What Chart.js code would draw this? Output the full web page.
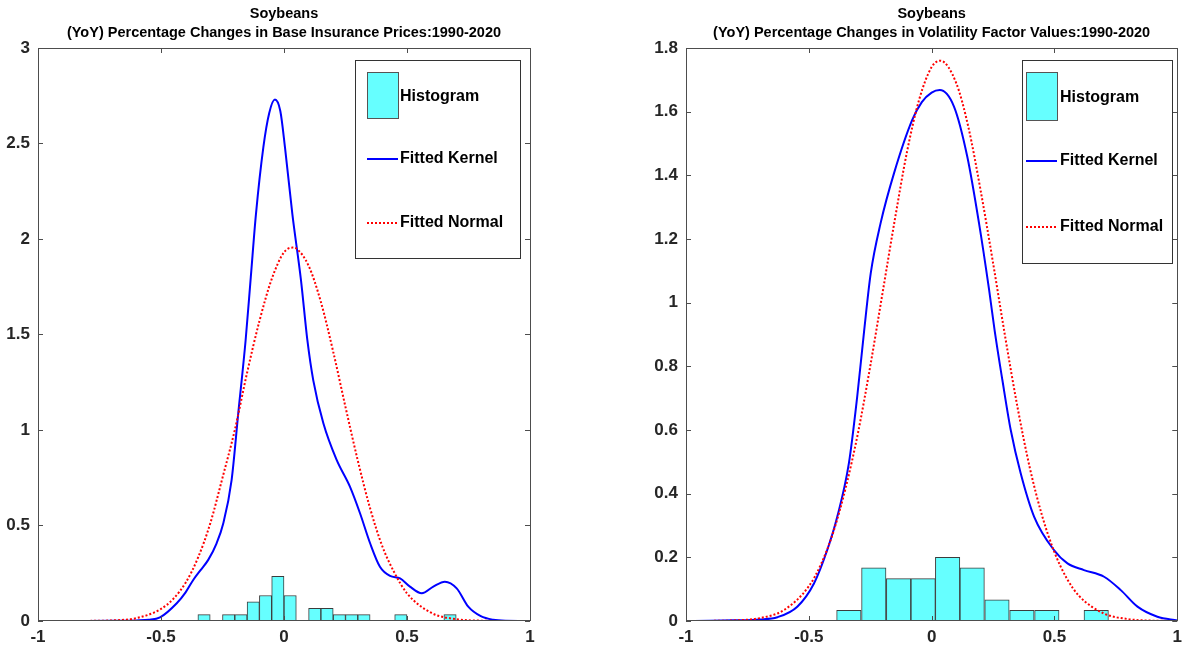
<!DOCTYPE html>
<html lang="en">
<head>
<meta charset="UTF-8">
<title>Soybeans YoY Percentage Changes</title>
<script src="https://cdn.jsdelivr.net/npm/chart.js@4"></script>
<style>
  body { margin: 0; background: #fff; }
  .wrap { position: absolute; top: 0; width: 594px; height: 649px; }
  #leftWrap { left: 0; }
  #rightWrap { left: 594px; }
</style>
</head>
<body>
<div class="wrap" id="leftWrap"><canvas id="priceChart" width="594" height="649"></canvas></div>
<div class="wrap" id="rightWrap"><canvas id="volChart" width="594" height="649"></canvas></div>
<script>
// tick labels
const xTicks = [-1, -0.5, 0, 0.5, 1];
const priceYTicks = [0, 0.5, 1, 1.5, 2, 2.5, 3];
const volYTicks = [0, 0.2, 0.4, 0.6, 0.8, 1, 1.2, 1.4, 1.6, 1.8];

// base insurance prices: histogram (bin centres, relative frequency)
const priceBins = [-0.325, -0.225, -0.175, -0.125, -0.075, -0.025, 0.025, 0.125, 0.175, 0.225, 0.275, 0.325, 0.475, 0.675];
const priceHist = [0.0333, 0.0333, 0.0333, 0.1, 0.1333, 0.2333, 0.1333, 0.0667, 0.0667, 0.0333, 0.0333, 0.0333, 0.0333, 0.0333];

// base insurance prices: fitted kernel
const priceKernelX = [-1, -0.8, -0.7, -0.6, -0.55, -0.504, -0.436, -0.4, -0.369, -0.34, -0.308, -0.274, -0.247, -0.213, -0.186, -0.156, -0.135, -0.114, -0.084, -0.06, -0.037, -0.015, 0.004, 0.034, 0.069, 0.095, 0.119, 0.16, 0.214, 0.268, 0.309, 0.35, 0.39, 0.431, 0.472, 0.512, 0.56, 0.607, 0.654, 0.702, 0.749, 0.8, 0.85, 0.9, 1];
const priceKernelY = [0, 0, 0.001, 0.003, 0.006, 0.019, 0.093, 0.15, 0.215, 0.265, 0.32, 0.407, 0.51, 0.738, 1.087, 1.47, 1.8, 2.13, 2.48, 2.66, 2.73, 2.67, 2.48, 2.13, 1.785, 1.47, 1.26, 1.035, 0.843, 0.703, 0.564, 0.407, 0.284, 0.236, 0.223, 0.18, 0.145, 0.18, 0.206, 0.171, 0.075, 0.025, 0.006, 0.001, 0];

// base insurance prices: fitted normal
const priceNormalX = [-1, -0.9, -0.8, -0.7, -0.6, -0.5, -0.45, -0.4, -0.35, -0.3, -0.25, -0.2, -0.15, -0.1, -0.05, 0, 0.035, 0.05, 0.1, 0.15, 0.2, 0.25, 0.3, 0.35, 0.4, 0.45, 0.5, 0.6, 0.7, 0.8, 0.9, 1];
const priceNormalY = [0, 0.0001, 0.0005, 0.003, 0.015, 0.063, 0.116, 0.2, 0.33, 0.51, 0.75, 1.0, 1.3, 1.57, 1.79, 1.93, 1.955, 1.95, 1.86, 1.67, 1.41, 1.12, 0.84, 0.59, 0.39, 0.25, 0.145, 0.042, 0.0096, 0.0017, 0.0002, 0];

// volatility factor values: histogram
const volBins = [-0.337, -0.2355, -0.1345, -0.0345, 0.065, 0.165, 0.266, 0.3675, 0.469, 0.67];
const volHist = [0.0333, 0.1667, 0.1333, 0.1333, 0.2, 0.1667, 0.0667, 0.0333, 0.0333, 0.0333];

// volatility factor values: fitted kernel
const volKernelX = [-1, -0.9, -0.806, -0.7, -0.628, -0.547, -0.479, -0.425, -0.384, -0.337, -0.303, -0.275, -0.248, -0.208, -0.153, -0.079, -0.04, 0, 0.033, 0.091, 0.145, 0.193, 0.234, 0.257, 0.288, 0.322, 0.3625, 0.417, 0.498, 0.553, 0.62, 0.702, 0.77, 0.838, 0.919, 1];
const volKernelY = [0, 0.0005, 0.002, 0.005, 0.012, 0.045, 0.118, 0.223, 0.328, 0.495, 0.705, 0.91, 1.092, 1.249, 1.407, 1.574, 1.63, 1.66, 1.668, 1.616, 1.459, 1.249, 1.04, 0.91, 0.757, 0.6, 0.464, 0.328, 0.223, 0.181, 0.16, 0.139, 0.097, 0.045, 0.0135, 0.002];

// volatility factor values: fitted normal
const volNormalX = [-1, -0.9, -0.8, -0.7, -0.6, -0.5, -0.45, -0.4, -0.35, -0.3, -0.25, -0.2, -0.15, -0.1, -0.05, 0, 0.035, 0.1, 0.15, 0.2, 0.25, 0.3, 0.35, 0.4, 0.45, 0.5, 0.55, 0.6, 0.7, 0.8, 0.9, 1];
const volNormalY = [0, 0.0003, 0.002, 0.009, 0.035, 0.109, 0.179, 0.28, 0.418, 0.59, 0.8, 1.03, 1.26, 1.475, 1.64, 1.74, 1.76, 1.69, 1.55, 1.35, 1.125, 0.89, 0.67, 0.48, 0.33, 0.216, 0.134, 0.079, 0.024, 0.006, 0.001, 0.0002];

const legendLabels = ['Histogram', 'Fitted Kernel', 'Fitted Normal'];

Chart.defaults.font.family = '"Liberation Sans", Arial, Helvetica, sans-serif';

function pts(xs, ys) {
    return xs.map((x, i) => ({ x: x, y: ys[i] }));
}

// MATLAB style box with inward ticks
const boxPlugin = {
    id: 'matlabBox',
    afterDatasetsDraw(chart) {
        const { ctx, chartArea: a, scales } = chart;
        const tl = 5;
        ctx.save();
        ctx.strokeStyle = '#4d4d4d';
        ctx.lineWidth = 1;
        ctx.beginPath();
        scales.x.ticks.forEach(t => {
            const px = Math.round(scales.x.getPixelForValue(t.value)) + 0.5;
            ctx.moveTo(px, a.bottom); ctx.lineTo(px, a.bottom - tl);
            ctx.moveTo(px, a.top); ctx.lineTo(px, a.top + tl);
        });
        scales.y.ticks.forEach(t => {
            const py = Math.round(scales.y.getPixelForValue(t.value)) + 0.5;
            ctx.moveTo(a.left, py); ctx.lineTo(a.left + tl, py);
            ctx.moveTo(a.right, py); ctx.lineTo(a.right - tl, py);
        });
        ctx.stroke();
        ctx.strokeRect(Math.round(a.left) + 0.5, Math.round(a.top) + 0.5,
            Math.round(a.right - a.left), Math.round(a.bottom - a.top) - 1);
        ctx.restore();
    }
};

// legend box drawn inside the plot area
const legendPlugin = {
    id: 'boxLegend',
    afterDraw(chart, args, opts) {
        const ctx = chart.ctx;
        const ds = chart.data.datasets;
        const hist = ds.find(d => d.label === 'Histogram');
        const lines = [ds.find(d => d.label === 'Fitted Kernel'), ds.find(d => d.label === 'Fitted Normal')];
        ctx.save();
        ctx.fillStyle = '#fff';
        ctx.fillRect(opts.left, opts.top, opts.width, opts.height);
        ctx.strokeStyle = '#333';
        ctx.lineWidth = 1;
        ctx.strokeRect(opts.left + 0.5, opts.top + 0.5, opts.width, opts.height);

        // histogram patch
        ctx.fillStyle = hist.backgroundColor;
        ctx.fillRect(opts.patchX, opts.patchTop, opts.patchW, opts.patchH);
        ctx.strokeStyle = '#555';
        ctx.strokeRect(opts.patchX + 0.5, opts.patchTop + 0.5, opts.patchW, opts.patchH);

        // line samples
        lines.forEach((d, i) => {
            const y = opts.rows[i + 1];
            ctx.beginPath();
            ctx.strokeStyle = d.borderColor;
            ctx.lineWidth = d.borderWidth;
            ctx.setLineDash(d.borderDash || []);
            ctx.moveTo(opts.patchX, y);
            ctx.lineTo(opts.patchX + opts.patchW, y);
            ctx.stroke();
        });
        ctx.setLineDash([]);

        ctx.fillStyle = '#000';
        ctx.font = 'bold 16px "Liberation Sans", Arial, sans-serif';
        ctx.textBaseline = 'middle';
        ctx.textAlign = 'left';
        legendLabels.forEach((lab, i) => ctx.fillText(lab, opts.textX, opts.rows[i]));
        ctx.restore();
    }
};

function makeChart(id, cfg) {
    const ctx = document.getElementById(id).getContext('2d');
    return new Chart(ctx, {
        type: 'bar',
        data: {
            datasets: [
                {
                    type: 'line',
                    label: 'Fitted Normal',
                    data: pts(cfg.normalX, cfg.normalY),
                    borderColor: '#ff0000',
                    borderWidth: 2,
                    borderDash: [2, 2],
                    pointRadius: 0,
                    cubicInterpolationMode: 'monotone',
                    fill: false,
                    order: 0
                },
                {
                    type: 'line',
                    label: 'Fitted Kernel',
                    data: pts(cfg.kernelX, cfg.kernelY),
                    borderColor: '#0000ff',
                    borderWidth: 2,
                    pointRadius: 0,
                    cubicInterpolationMode: 'monotone',
                    fill: false,
                    order: 1
                },
                {
                    type: 'bar',
                    label: 'Histogram',
                    data: pts(cfg.bins, cfg.hist),
                    backgroundColor: '#66ffff',
                    borderColor: '#3c3c3c',
                    borderWidth: 1,
                    borderSkipped: false,
                    barPercentage: 1,
                    categoryPercentage: 1,
                    order: 2
                }
            ]
        },
        options: {
            responsive: false,
            animation: false,
            layout: { padding: cfg.padding },
            plugins: {
                legend: { display: false },
                tooltip: { enabled: false },
                title: {
                    display: true,
                    fullSize: false,
                    text: cfg.title,
                    color: '#000',
                    font: { size: 14.5, weight: 'bold', lineHeight: 1.31 },
                    padding: { top: 4.5, bottom: 5.5 }
                },
                boxLegend: cfg.legend
            },
            scales: {
                x: {
                    type: 'linear',
                    min: -1,
                    max: 1,
                    offset: false,
                    grid: { display: false, drawTicks: false },
                    border: { display: false },
                    afterBuildTicks: s => { s.ticks = xTicks.map(v => ({ value: v })); },
                    afterFit: s => { s.height = 28; },
                    ticks: {
                        padding: 6,
                        color: '#262626',
                        font: { size: 17, weight: 'bold' },
                        maxRotation: 0,
                        callback: v => String(v)
                    }
                },
                y: {
                    min: 0,
                    max: cfg.yMax,
                    grid: { display: false, drawTicks: false },
                    border: { display: false },
                    afterBuildTicks: s => { s.ticks = cfg.yTicks.map(v => ({ value: v })); },
                    afterFit: s => { s.width = cfg.yWidth; },
                    ticks: {
                        padding: 8,
                        color: '#262626',
                        font: { size: 17, weight: 'bold' },
                        callback: v => String(v)
                    }
                }
            }
        },
        plugins: [boxPlugin, legendPlugin]
    });
}

makeChart('priceChart', {
    title: ['Soybeans', '(YoY) Percentage Changes in Base Insurance Prices:1990-2020'],
    bins: priceBins, hist: priceHist,
    kernelX: priceKernelX, kernelY: priceKernelY,
    normalX: priceNormalX, normalY: priceNormalY,
    yTicks: priceYTicks, yMax: 3, yWidth: 38,
    padding: { left: 0, right: 64, top: 0, bottom: 0 },
    legend: { left: 355, top: 60, width: 165, height: 198, patchX: 367, patchTop: 72, patchW: 31, patchH: 46, textX: 400, rows: [97, 159, 223] }
});

makeChart('volChart', {
    title: ['Soybeans', '(YoY) Percentage Changes in Volatility Factor Values:1990-2020'],
    bins: volBins, hist: volHist,
    kernelX: volKernelX, kernelY: volKernelY,
    normalX: volNormalX, normalY: volNormalY,
    yTicks: volYTicks, yMax: 1.8, yWidth: 92,
    padding: { left: 0, right: 10, top: 0, bottom: 0 },
    legend: { left: 428, top: 60, width: 150, height: 203, patchX: 432, patchTop: 72, patchW: 31, patchH: 48, textX: 466, rows: [98, 161, 227] }
});
</script>
</body>
</html>
